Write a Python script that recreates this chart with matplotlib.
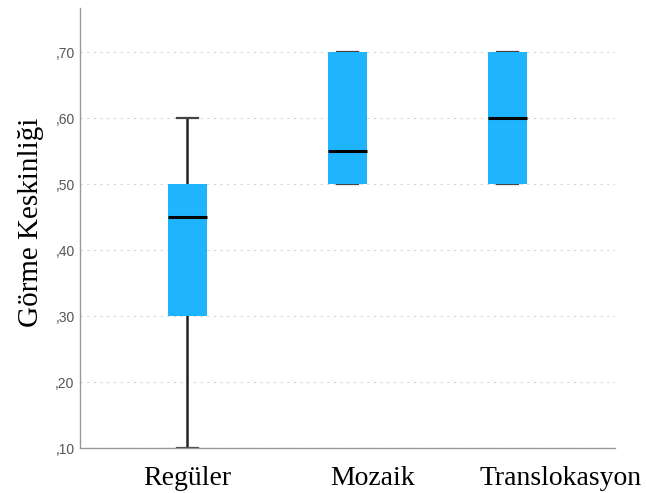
import matplotlib.pyplot as plt
import matplotlib.transforms as mtransforms
from matplotlib.ticker import FuncFormatter

# Görme keskinliği özet değerleri (gruplara göre)
groups = ["Regüler", "Mozaik", "Translokasyon"]
whisker_low = [0.10, 0.50, 0.50]
q1 = [0.30, 0.50, 0.50]
median = [0.45, 0.55, 0.60]
q3 = [0.50, 0.70, 0.70]
whisker_high = [0.60, 0.70, 0.70]
yticks = [0.10, 0.20, 0.30, 0.40, 0.50, 0.60, 0.70]

stats = []
for i, g in enumerate(groups):
    stats.append({"label": g, "whislo": whisker_low[i], "q1": q1[i], "med": median[i],
                  "q3": q3[i], "whishi": whisker_high[i], "fliers": []})

fig = plt.figure(figsize=(6.46, 4.93), dpi=100)
ax = fig.add_axes([0.124, 0.091, 0.828, 0.893])

bp = ax.bxp(stats, positions=[1, 2, 3], widths=0.245, patch_artist=True, showfliers=False,
            boxprops=dict(facecolor="#1fb5fe", edgecolor="#1fb5fe", linewidth=0),
            medianprops=dict(color="black", linewidth=2.2),
            whiskerprops=dict(color="#222222", linewidth=1.8),
            capprops=dict(color="#444444", linewidth=1.6),
            capwidths=0.13)
# kutular bıyık uçlarının üstünde kalsın
for c in bp["caps"]:
    c.set_zorder(2)
for w in bp["whiskers"]:
    w.set_zorder(2)
for b in bp["boxes"]:
    b.set_zorder(3)
for m in bp["medians"]:
    m.set_zorder(4)

ax.set_xlim(0.33, 3.67)
ax.set_ylim(0.10, 0.767)
ax.set_yticks(yticks)
ax.yaxis.set_major_formatter(FuncFormatter(lambda v, p: ("%.2f" % v).lstrip("0").replace(".", ",")))
ax.grid(axis="y", linestyle=(0, (2, 4)), color="#d5d5d5", linewidth=0.8, zorder=0)
ax.set_axisbelow(True)

for s in ["top", "right"]:
    ax.spines[s].set_visible(False)
for s in ["left", "bottom"]:
    ax.spines[s].set_color("#999999")
    ax.spines[s].set_linewidth(1.0)

ax.tick_params(axis="both", length=0)
ax.tick_params(axis="y", labelsize=10, labelcolor="#555555", pad=4)
ax.tick_params(axis="x", pad=13)

# kategori etiketleri sağa doğru kaydırılmış
shifts = [0, 25, 53]
for lbl, dx in zip(ax.get_xticklabels(), shifts):
    lbl.set_fontfamily("Liberation Serif")
    lbl.set_fontsize(20)
    lbl.set_transform(lbl.get_transform() + mtransforms.ScaledTranslation(dx / 100, 0, fig.dpi_scale_trans))
for lbl in ax.get_yticklabels():
    lbl.set_fontfamily("Liberation Sans")

ax.set_ylabel("Görme Keskinliği", fontfamily="Liberation Serif", fontsize=21)
ax.yaxis.set_label_coords(-0.067, 0.514)

fig.savefig("out.png", dpi=100)
